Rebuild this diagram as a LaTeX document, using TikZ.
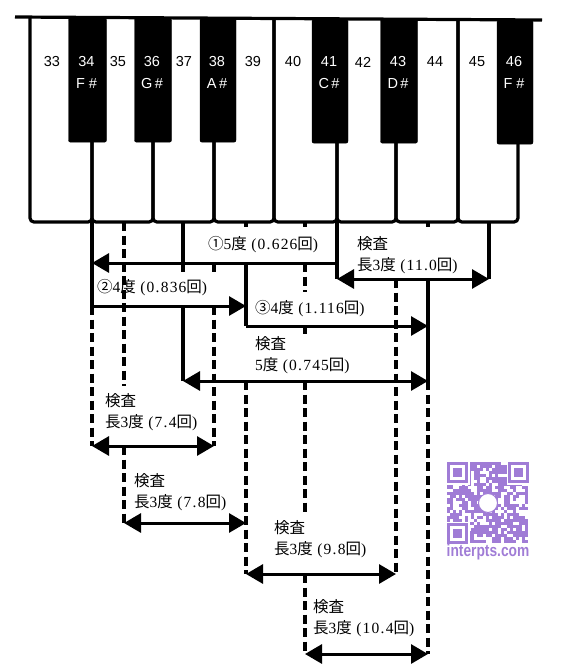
\documentclass[tikz,border=0pt]{standalone}
\usepackage{fontspec}
\setmainfont[LetterSpace=8]{Liberation Serif}
\newfontfamily\keyfont{Liberation Sans}
\newfontfamily\jpfont{Noto Sans CJK JP}
\usepackage{tikz}
\usetikzlibrary{arrows.meta, positioning}
\definecolor{qrpurple}{RGB}{160,124,214}
\newcommand{\jp}[1]{{\jpfont #1}}
\newcommand{\kensa}{\jp{検査}}
\newcommand{\longthird}[1]{\jp{長}3\jp{度}\;(#1\jp{回})}

\begin{document}
\begin{tikzpicture}[
      x=1pt, y=-1pt,
      keyline/.style={line width=3.2pt, rounded corners=4pt},
      blackkey/.style={fill=black, draw=black, anchor=north, minimum height=124pt, rounded corners=2pt, inner sep=0pt},
      whitenum/.style={keyfont, text=black},
      blacknum/.style={keyfont, text=white},
      keyfont/.style={font=\keyfont\fontsize{14.5}{15}\selectfont, inner sep=0pt},
      txt/.style={anchor=west, align=left, inner sep=0pt, font=\fontsize{15.5}{21}\selectfont},
      solidline/.style={line width=3.2pt},
      dashline/.style={line width=3.2pt, dash pattern=on 9pt off 4.5pt},
      onehead/.style={line width=3pt, -{Triangle[length=17pt,width=19pt]}},
      twohead/.style={line width=3pt, {Triangle[length=17pt,width=19pt]}-{Triangle[length=17pt,width=19pt]}}
    ]
    \useasboundingbox (0,0) rectangle (567,670);

    % keyboard
    \foreach \xl/\yl/\xr/\yr in {30/17/92/141, 92/141/153/141, 153/141/214/141, 214/141/274/18, 274/18/337/142, 337/142/396/142, 396/142/458/19, 458/19/518/143}
      \draw[keyline] (\xl,\yl) -- (\xl,222) -- (\xr,222) -- (\xr,\yr);
    \draw[line width=3.2pt] (15,17) -- (542,20);
    \foreach \n/\x/\w/\y/\s in {34/87.5/38/18/F \#, 36/153/37/18/G\,\#, 38/218/36/18/A\,\#, 41/330/36/19/C\,\#, 43/399/37/19/D\,\#, 46/515/36/20/F \#} {
      \node[blackkey, minimum width=\w pt] (k\n) at (\x,\y) {};
      \node[blacknum] (n\n) at (\x-1,62) {\n};
      \node[blacknum, below=11pt of n\n] (s\n) {\s};
    }
    \foreach \n/\x in {33/52, 35/118, 37/184, 39/253, 40/293, 42/363, 44/435, 45/477}
      \node[whitenum] (n\n) at (\x,62) {\n};

    % ends of the arrows
    \coordinate (firstL) at (92,263);
    \coordinate (firstR) at (337,263);
    \coordinate (topL) at (337,279);
    \coordinate (topR) at (489,279);
    \coordinate (secondL) at (92,306);
    \coordinate (secondR) at (246,306);
    \coordinate (thirdL) at (246,326);
    \coordinate (thirdR) at (428,326);
    \coordinate (fifthL) at (183,381);
    \coordinate (fifthR) at (428,381);
    \coordinate (sevenL) at (92,446);
    \coordinate (sevenR) at (214,446);
    \coordinate (eightL) at (124,523);
    \coordinate (eightR) at (246,523);
    \coordinate (nineL) at (246,574);
    \coordinate (nineR) at (396,574);
    \coordinate (tenL) at (305,654);
    \coordinate (tenR) at (428,654);

    % ends of the vertical lines
    \coordinate (a0) at (92,222);
    \coordinate (b0) at (124,222);
    \coordinate (b1) at (124,386);
    \coordinate (b2) at (124,446);
    \coordinate (c0) at (183,222);
    \coordinate (c1) at (183,272);
    \coordinate (c2) at (183,306);
    \coordinate (d0) at (214,263);
    \coordinate (d1) at (214,272);
    \coordinate (d2) at (214,306);
    \coordinate (e0) at (246,222);
    \coordinate (e1) at (246,227);
    \coordinate (e2) at (246,263);
    \coordinate (e3) at (246,381);
    \coordinate (f0) at (305,222);
    \coordinate (f1) at (305,227);
    \coordinate (f2) at (305,263);
    \coordinate (f3) at (305,292);
    \coordinate (f4) at (305,326);
    \coordinate (f5) at (305,334);
    \coordinate (f6) at (305,381);
    \coordinate (f7) at (305,512);
    \coordinate (f8) at (305,574);
    \coordinate (g0) at (337,222);
    \coordinate (h0) at (396,279);
    \coordinate (i0) at (428,222);
    \coordinate (i1) at (428,227);
    \coordinate (i2) at (428,279);
    \coordinate (j0) at (489,222);

    \draw[solidline] (a0) -- (secondL);
    \draw[dashline] (secondL) -- (sevenL);
    \draw[dashline] (b0) -- (b1);
    \draw[dashline] (b2) -- (eightL);
    \draw[solidline] (c0) -- (c1);
    \draw[solidline] (c2) -- (fifthL);
    \draw[solidline] (d0) -- (d1);
    \draw[dashline] (d2) -- (sevenR);
    \draw[solidline] (e0) -- (e1);
    \draw[solidline] (e2) -- (thirdL);
    \draw[dashline] (e3) -- (nineL);
    \draw[solidline] (f0) -- (f1);
    \draw[dashline] (f2) -- (f3);
    \draw[solidline] (f4) -- (f5);
    \draw[dashline] (f6) -- (f7);
    \draw[dashline] (f8) -- (tenL);
    \draw[solidline] (g0) -- (topL);
    \draw[dashline] (h0) -- (nineR);
    \draw[solidline] (i0) -- (i1);
    \draw[solidline] (i2) -- (fifthR);
    \draw[dashline] (fifthR) -- (tenR);
    \draw[solidline] (j0) -- (topR);

    % arrows
    \draw[onehead] (firstR) -- (firstL);
    \draw[twohead] (topL) -- (topR);
    \draw[onehead] (secondL) -- (secondR);
    \draw[onehead] (thirdL) -- (thirdR);
    \draw[twohead] (fifthL) -- (fifthR);
    \draw[twohead] (sevenL) -- (sevenR);
    \draw[twohead] (eightL) -- (eightR);
    \draw[twohead] (nineL) -- (nineR);
    \draw[twohead] (tenL) -- (tenR);

    % labels
    \node[txt] (tfirst) at (208,245) {\jp{①}5\jp{度}\;(0.626\jp{回})};
    \node[txt] (ttop) at (357,255) {\kensa\\\longthird{11.0}};
    \node[txt] (tsecond) at (97,288) {\jp{②}4\jp{度}\;(0.836\jp{回})};
    \node[txt] (tthird) at (255,309) {\jp{③}4\jp{度}\;(1.116\jp{回})};
    \node[txt] (tfifth) at (255,355) {\kensa\\5\jp{度}\;(0.745\jp{回})};
    \node[txt] (tseven) at (105,412) {\kensa\\\longthird{7.4}};
    \node[txt] (teight) at (134,492) {\kensa\\\longthird{7.8}};
    \node[txt] (tnine) at (274,539) {\kensa\\\longthird{9.8}};
    \node[txt] (tten) at (313,618) {\kensa\\\longthird{10.4}};

    % watermark
    \pgfmathsetseed{41}
    \foreach \r in {0,...,26}
      \foreach \c in {0,...,26} {
        \pgfmathrandominteger{\bit}{0}{2}
        \ifnum\bit>0
          \fill[qrpurple] (447+3*\c,462+3*\r) rectangle ++(3.1,3.1);
        \fi
      }
    \foreach \x/\y in {447/462, 508/462, 447/523} {
      \fill[white] (\x-1,\y-1) rectangle ++(24,24);
      \fill[qrpurple] (\x,\y) rectangle ++(21,21);
      \fill[white] (\x+3,\y+3) rectangle ++(15,15);
      \fill[qrpurple] (\x+6,\y+6) rectangle ++(9,9);
    }
    \node[circle, fill=white, draw=qrpurple, line width=1pt, minimum size=19pt, inner sep=0pt] (qrlogo) at (488,503) {};
    \node[text=qrpurple, inner sep=0pt, xscale=0.81, font=\keyfont\bfseries\fontsize{17}{17}\selectfont] (qrtext) at (488,552) {interpts.com};
    \end{tikzpicture}
\end{document}
